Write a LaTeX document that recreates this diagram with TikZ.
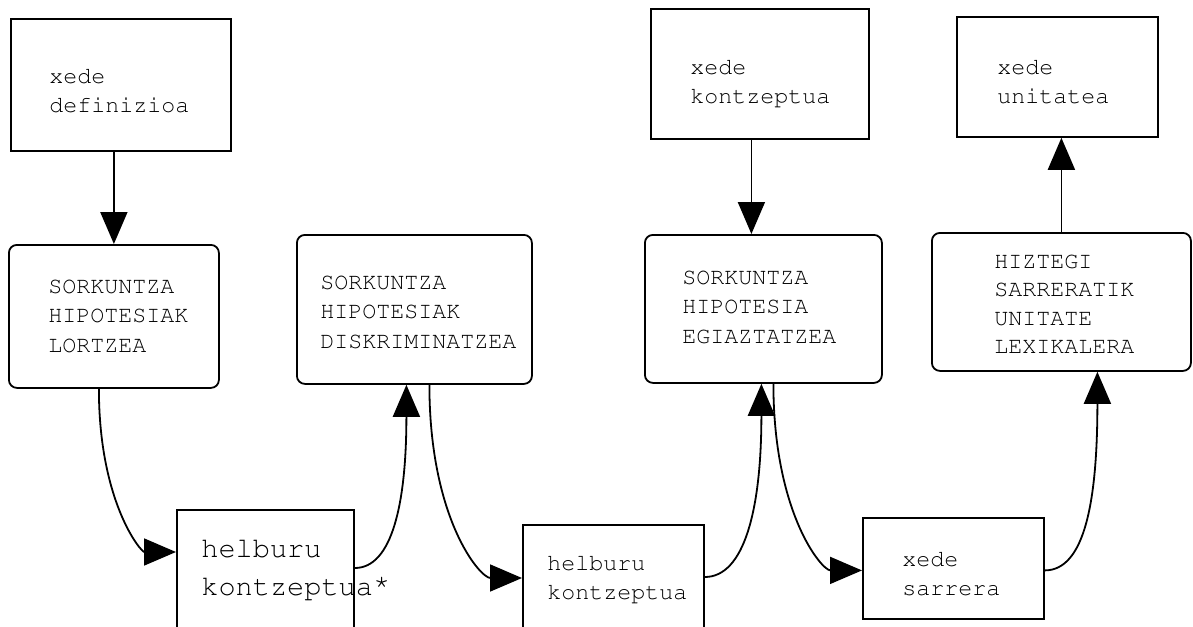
\documentclass[tikz,border=0pt]{standalone}
\usepackage[T1]{fontenc}
\usepackage{courier}
\usetikzlibrary{calc,arrows.meta}
\tikzset{
  sqbox/.style={ % plain box with square corners
    draw, rectangle, line width=0.9pt,
    anchor=north west, inner sep=0pt
  },
  rbox/.style={ % box with rounded corners
    sqbox, rounded corners=4pt
  },
  txt/.style={ % left aligned typewriter text inside a box
    anchor=north west, inner sep=0pt, align=left,
    font=\ttfamily\fontsize{11.67pt}{14.75pt}\selectfont
  },
  bigtxt/.style={ % the larger text of the first helburu box
    txt, font=\ttfamily\fontsize{14.3pt}{19pt}\selectfont
  },
  flow/.style={ % connector with a big filled head
    line width=0.9pt, -{Triangle[length=16pt,width=13.5pt]}
  }
}

\begin{document}
\begin{tikzpicture}[x=0.5pt, y=-0.5pt]
    \useasboundingbox (0,0) rectangle (1193,626);

    \node[sqbox, minimum width=110pt, minimum height=66pt] (A) at (10,18) {};
    \node[rbox, minimum width=105pt, minimum height=71.5pt] (B) at (8,244) {};
    \node[sqbox, minimum width=88.5pt, minimum height=70pt] (H) at (176,509) {};
    \node[rbox, minimum width=117.5pt, minimum height=74.5pt] (C) at (296,234) {};
    \node[sqbox, minimum width=90.5pt, minimum height=60pt] (I) at (522,524) {};
    \node[sqbox, minimum width=109pt, minimum height=65pt] (D) at (650,8) {};
    \node[rbox, minimum width=118.5pt, minimum height=74pt] (E) at (644,234) {};
    \node[sqbox, minimum width=90.5pt, minimum height=50.5pt] (J) at (862,517) {};
    \node[sqbox, minimum width=100.5pt, minimum height=60pt] (F) at (956,16) {};
    \node[rbox, minimum width=129.5pt, minimum height=69pt] (G) at (931,232) {};

    \node[txt] (a_text) at ($(A.north west)+(39,44)$) {\strut xede\\\strut definizioa};
    \node[txt] (b_text) at ($(B.north west)+(40,28)$) {\strut SORKUNTZA\\\strut HIPOTESIAK\\\strut LORTZEA};
    \node[bigtxt] (h_text) at ($(H.north west)+(25,21)$) {\strut helburu\\\strut kontzeptua\raisebox{0.18em}{*}};
    \node[txt] (c_text) at ($(C.north west)+(24,34)$) {\strut SORKUNTZA\\\strut HIPOTESIAK\\\strut DISKRIMINATZEA};
    \node[txt, font=\ttfamily\fontsize{11.67pt}{14.5pt}\selectfont] (i_text) at ($(I.north west)+(25,26)$) {\strut helburu\\\strut kontzeptua};
    \node[txt] (d_text) at ($(D.north west)+(40,45)$) {\strut xede\\\strut kontzeptua};
    \node[txt] (e_text) at ($(E.north west)+(38,29)$) {\strut SORKUNTZA\\\strut HIPOTESIA\\\strut EGIAZTATZEA};
    \node[txt] (j_text) at ($(J.north west)+(40,28)$) {\strut xede\\\strut sarrera};
    \node[txt] (f_text) at ($(F.north west)+(41,37)$) {\strut xede\\\strut unitatea};
    \node[txt, font=\ttfamily\fontsize{11.67pt}{14.25pt}\selectfont] (g_text) at ($(G.north west)+(63,16)$) {\strut HIZTEGI\\\strut SARRERATIK\\\strut UNITATE\\\strut LEXIKALERA};

    % straight links
    \coordinate (e_in) at ($(E.north)+(-12,0)$);
    \draw[flow] (A.south -| B.north) -- (B.north);
    \draw[flow] (e_in |- D.south) -- (e_in);
    \draw[flow] (G.north) -- (G.north |- F.south);

    % bent links along the bottom row
    \draw[flow] ($(B.south)+(-15,0)$) to[out=-90, in=180, out looseness=1.6, in looseness=0.5] ($(H.north west)+(0,43)$);
    \draw[flow] ($(H.north east)+(0,59)$) to[out=0, in=-90, out looseness=0.5, in looseness=1.6] ($(C.south)+(-8,0)$);
    \draw[flow] ($(C.south)+(15,0)$) to[out=-90, in=180, out looseness=1.6, in looseness=0.5] ($(I.north west)+(0,54)$);
    \draw[flow] ($(I.north east)+(0,53)$) to[out=0, in=-90, out looseness=0.5, in looseness=1.6] ($(E.south)+(-2,0)$);
    \draw[flow] ($(E.south)+(10,0)$) to[out=-90, in=180, out looseness=1.6, in looseness=0.5] ($(J.west)+(0,2)$);
    \draw[flow] ($(J.east)+(0,2)$) to[out=0, in=-90, out looseness=0.5, in looseness=1.6] ($(G.south)+(36,0)$);
\end{tikzpicture}
\end{document}
